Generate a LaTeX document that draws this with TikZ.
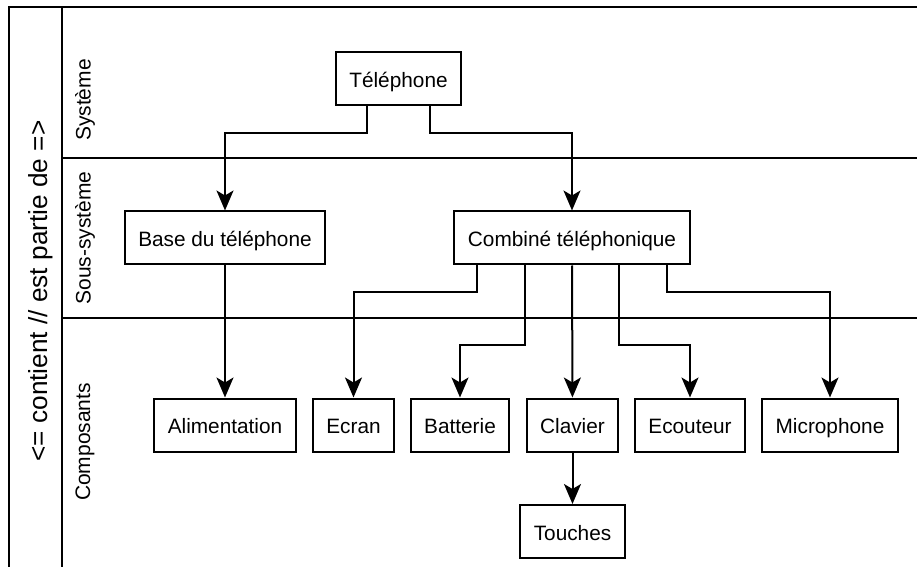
\documentclass[tikz,border=0pt]{standalone}
\usepackage{fontspec}
\setmainfont{Liberation Sans}
\usetikzlibrary{arrows.meta,calc}

\begin{document}
\begin{tikzpicture}[x=0.5pt,y=-0.5pt,line width=1pt,
    box/.style={draw,minimum height=26.5pt,inner xsep=6.75pt,
      text height=8.6pt,text depth=0pt,
      font=\fontsize{10.4}{12}\selectfont},
    lane/.style={rotate=90,font=\fontsize{10.5}{12}\selectfont},
    arr/.style={-{Stealth[length=10pt,width=8.5pt,inset=2.5pt]}},]
  \useasboundingbox (0,0) rectangle (917,567);
  \draw (9,567) |- (917,7);
  \draw (62,567) -- (62,7);
  \draw (62,158) -- (917,158);
  \draw (62,318) -- (917,318);
  \node[lane,font=\fontsize{13.1}{15}\selectfont] (axe) at (41,291) {<= contient // est partie de =>};
  \node[lane] (sys) at (85,100) {Système};
  \node[lane] (ssys) at (85,238) {Sous-système};
  \node[lane] (comp) at (85,442) {Composants};
  \node[box] (tel) at (398.5,78.5) {Téléphone};
  \node[box] (base) at (225,238) {Base du téléphone};
  \node[box] (comb) at (572,238) {Combiné téléphonique};
  \node[box] (alim) at (225,425) {Alimentation};
  \node[box] (ecran) at (353.5,425) {Ecran};
  \node[box] (batt) at (460,425) {Batterie};
  \node[box] (clav) at (572.5,425) {Clavier};
  \node[box] (ecou) at (690,425) {Ecouteur};
  \node[box] (micro) at (830,425) {Microphone};
  \node[box] (touch) at (572.5,531.5) {Touches};
  \draw[arr] ($(tel.south west)!.25!(tel.south east)$) -- ++(0,27) -| (base.north);
  \draw[arr] ($(tel.south west)!.75!(tel.south east)$) -- ++(0,27) -| (comb.north);
  \draw[arr] (base) -- (alim);
  \draw[arr] ($(comb.south west)!.1!(comb.south east)$) -- ++(0,27) -| (ecran.north);
  \draw[arr] ($(comb.south west)!.3!(comb.south east)$) -- ++(0,79) -| (batt.north);
  \draw[arr] (comb) -- (clav);
  \draw[arr] ($(comb.south west)!.7!(comb.south east)$) -- ++(0,79) -| (ecou.north);
  \draw[arr] ($(comb.south west)!.9!(comb.south east)$) -- ++(0,27) -| (micro.north);
  \draw[arr] (clav) -- (touch);
\end{tikzpicture}
\end{document}
